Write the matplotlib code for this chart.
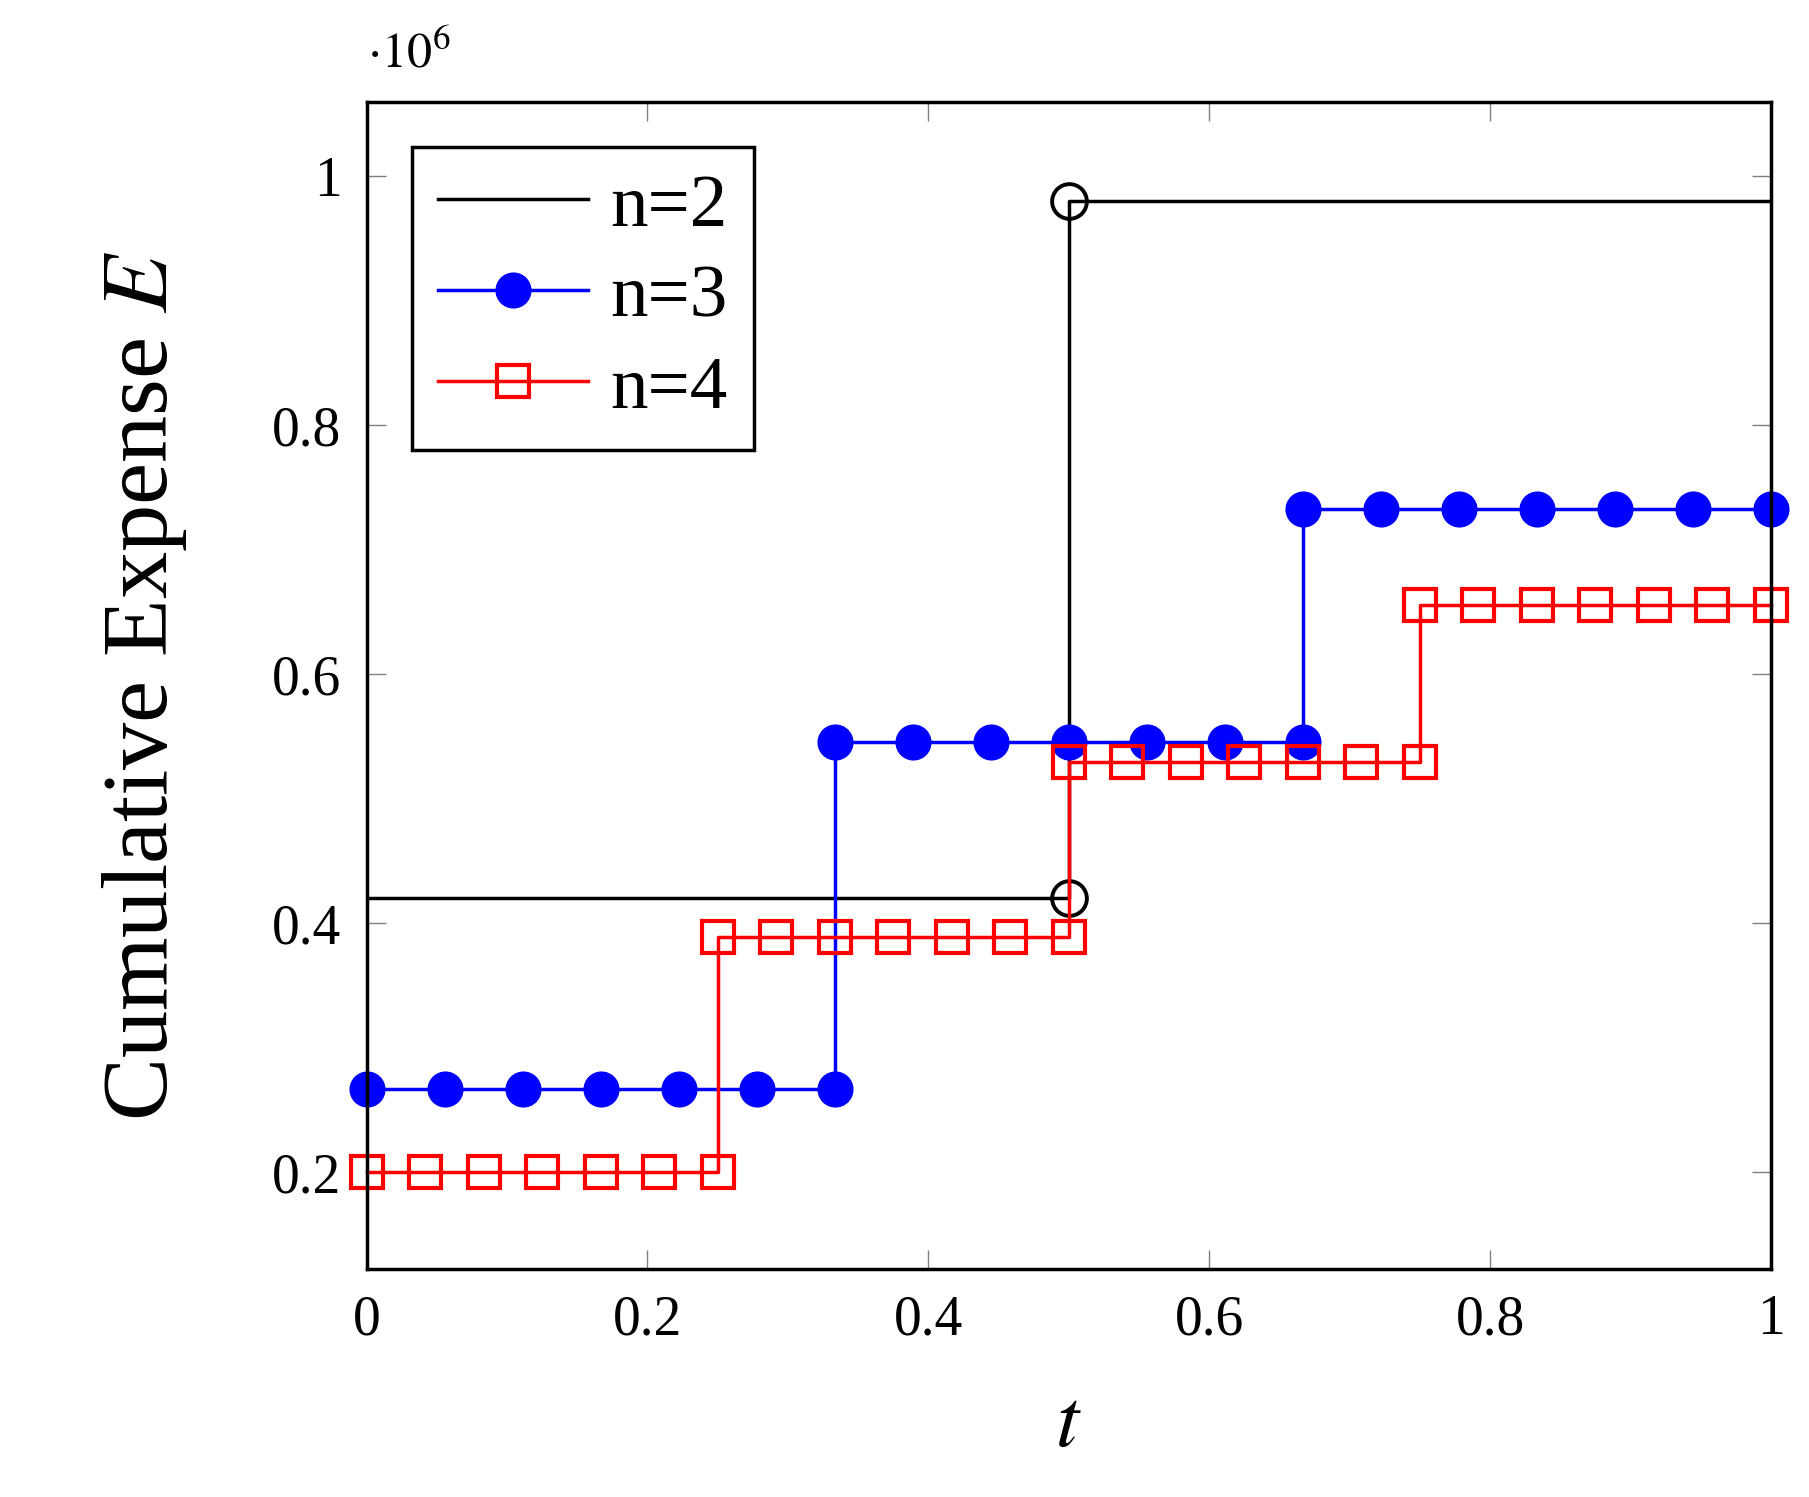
import matplotlib.pyplot as plt
from matplotlib.ticker import FuncFormatter
import numpy as np

# n=2: two levels, circles only at the jump
t2 = [0, 0.5, 0.5, 1]
e2 = [0.42e6, 0.42e6, 0.98e6, 0.98e6]

# n=3: three stages of 1/3, 7 marks per stage
stages3 = [(0, 1/3, 0.267e6), (1/3, 2/3, 0.546e6), (2/3, 1, 0.733e6)]
# n=4: four stages of 1/4, 7 marks per stage
stages4 = [(0, 0.25, 0.20e6), (0.25, 0.5, 0.389e6), (0.5, 0.75, 0.53e6), (0.75, 1, 0.656e6)]


def build(stages):
    t, e = [], []
    for a, b, v in stages:
        for x in np.linspace(a, b, 7):
            t.append(x)
            e.append(v)
    return t, e


t3, e3 = build(stages3)
t4, e4 = build(stages4)

plt.rcParams['font.family'] = ['Liberation Serif', 'DejaVu Serif']
plt.rcParams['mathtext.fontset'] = 'stix'

fig = plt.figure(figsize=(18.09, 14.97), dpi=100)
ax = fig.add_axes([0.2026, 0.152, 0.7764, 0.78])

ax.plot(t2, e2, color='black', lw=2.5, label='n=2')
ax.plot([0.5, 0.5], [0.42e6, 0.98e6], ls='none', marker='o', ms=25,
        mfc='none', mec='black', mew=2.8, clip_on=False)
ax.plot(t3, e3, color='blue', lw=2.5, marker='o', ms=25, label='n=3', clip_on=False)
ax.plot(t4, e4, color='red', lw=2.5, marker='s', ms=23, mfc='none', mew=3,
        label='n=4', clip_on=False)

ax.set_xlim(0, 1)
ax.set_ylim(0.122e6, 1.06e6)
ax.set_xticks([0, 0.2, 0.4, 0.6, 0.8, 1])
ax.set_yticks([0.2e6, 0.4e6, 0.6e6, 0.8e6, 1e6])
ax.xaxis.set_major_formatter(FuncFormatter(lambda v, p: f"{v:g}"))
ax.yaxis.set_major_formatter(FuncFormatter(lambda v, p: f"{v/1e6:g}"))
ax.tick_params(direction='in', top=True, right=True, labelsize=40, length=14,
               width=1, pad=18, color='gray')
for s in ax.spines.values():
    s.set_linewidth(2.5)

ax.text(0.0, 1.02, r'$\cdot 10^6$', transform=ax.transAxes, fontsize=36,
        ha='left', va='bottom')
ax.set_xlabel(r'$t$', fontsize=60, labelpad=30)
ax.set_ylabel(r'Cumulative Expense $E$', fontsize=68, labelpad=60)

leg = ax.legend(loc='upper left', fontsize=54, fancybox=False, framealpha=1,
                edgecolor='black', handlelength=2.0, handletextpad=0.3,
                borderpad=0.35, labelspacing=0.3, borderaxespad=0.6)
leg.get_frame().set_linewidth(2.5)

fig.savefig('out.png', dpi=100)
